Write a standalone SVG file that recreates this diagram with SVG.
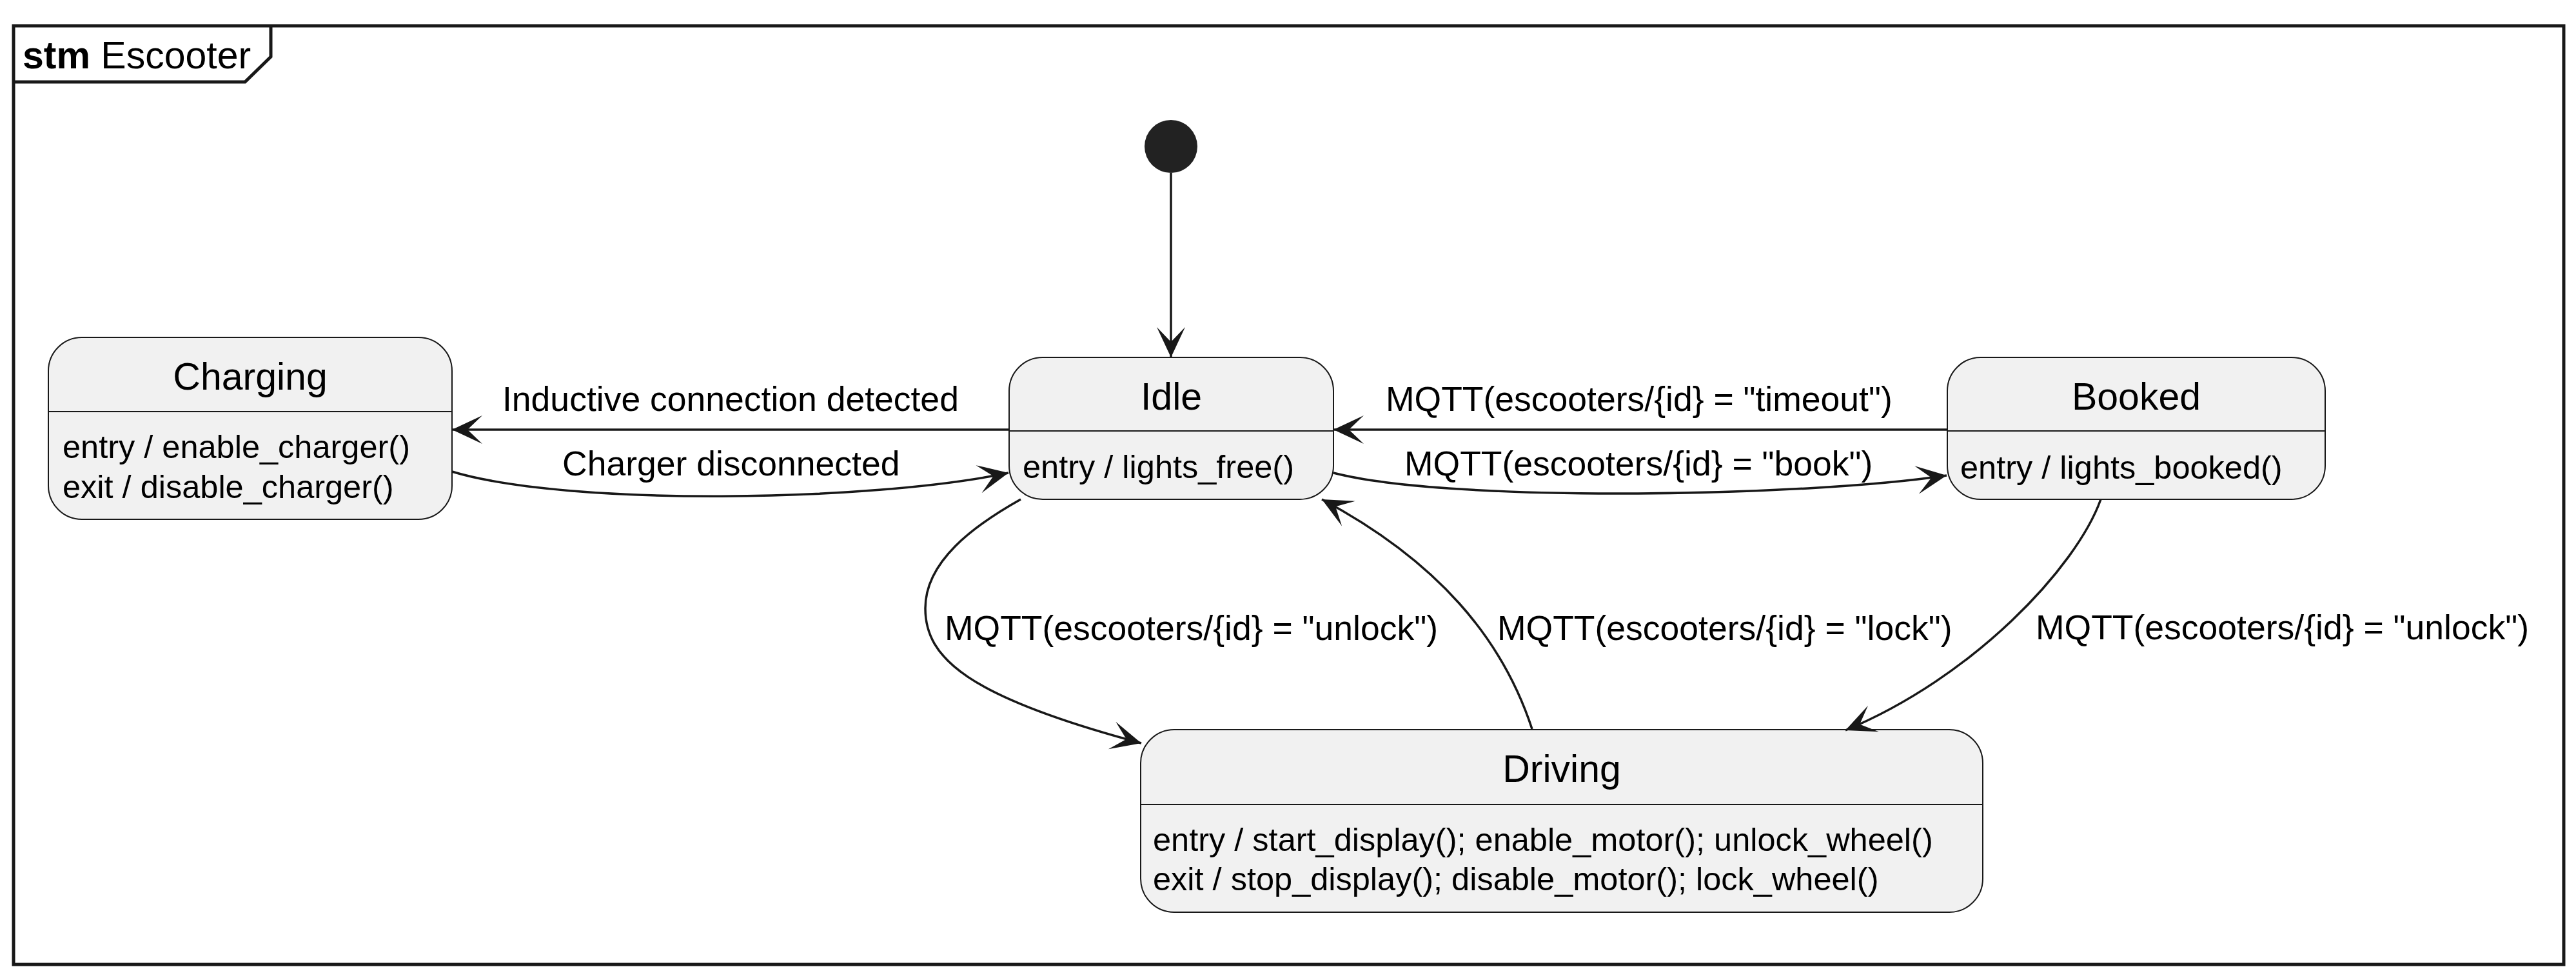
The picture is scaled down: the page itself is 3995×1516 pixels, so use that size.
<svg xmlns="http://www.w3.org/2000/svg" width="3995" height="1516" viewBox="0 0 3995 1516">
<style>
text{font-family:"Liberation Sans",Arial,sans-serif;fill:#000}
.nm{font-size:59px;text-anchor:middle}
.dt{font-size:50.5px}
.lb{font-size:53.5px}
.box{fill:#F1F1F1;stroke:#181818;stroke-width:2}
.div{stroke:#181818;stroke-width:2}
.edge{fill:none;stroke:#181818;stroke-width:3.5;marker-end:url(#ah)}
</style>
<defs>
<marker id="ah" markerUnits="userSpaceOnUse" viewBox="-50 -25 55 50" markerWidth="55" markerHeight="50" refX="0" refY="0" orient="auto" overflow="visible">
<path d="M0,0 L-47,-22 L-24,0 L-47,22 Z" fill="#181818"/>
</marker>
</defs>
<rect width="3995" height="1516" fill="#fff"/>
<g id="frame">
<rect x="21" y="40" width="3955" height="1455" fill="none" stroke="#181818" stroke-width="5"/>
<path d="M21,127 L380,127 L420,88 L420,40" fill="none" stroke="#181818" stroke-width="5"/>
<text x="35" y="106" font-size="59"><tspan font-weight="bold">stm</tspan> Escooter</text>
</g>
<g id="initial">
<circle cx="1816" cy="227" r="41" fill="#222"/>
</g>
<g id="Charging">
<rect class="box" x="75" y="523" width="626" height="282" rx="52"/>
<line class="div" x1="75" y1="638" x2="701" y2="638"/>
<text class="nm" x="388" y="604">Charging</text>
<text class="dt" x="97" y="710">entry / enable_charger()</text>
<text class="dt" x="97" y="772">exit / disable_charger()</text>
</g>
<g id="Idle">
<rect class="box" x="1565" y="554" width="503" height="220" rx="52"/>
<line class="div" x1="1565" y1="668" x2="2068" y2="668"/>
<text class="nm" x="1816.5" y="635">Idle</text>
<text class="dt" x="1586" y="741">entry / lights_free()</text>
</g>
<g id="Booked">
<rect class="box" x="3020" y="554" width="586" height="220" rx="52"/>
<line class="div" x1="3020" y1="668" x2="3606" y2="668"/>
<text class="nm" x="3313" y="635">Booked</text>
<text class="dt" x="3040" y="742">entry / lights_booked()</text>
</g>
<g id="Driving">
<rect class="box" x="1769" y="1131" width="1306" height="283" rx="52"/>
<line class="div" x1="1769" y1="1247" x2="3075" y2="1247"/>
<text class="nm" x="2422" y="1212">Driving</text>
<text class="dt" x="1788" y="1319">entry / start_display(); enable_motor(); unlock_wheel()</text>
<text class="dt" x="1788" y="1380">exit / stop_display(); disable_motor(); lock_wheel()</text>
</g>
<g id="connectors">
<path class="edge" d="M1816,268 L1816,554"/>
<path class="edge" d="M1565,666 L701,666"/>
<text class="lb" x="779" y="637">Inductive connection detected</text>
<path class="edge" d="M701,731 C880,785 1350,778 1564,733"/>
<text class="lb" x="872" y="737">Charger disconnected</text>
<path class="edge" d="M3020,666 L2068,666"/>
<text class="lb" x="2149" y="637">MQTT(escooters/{id} = "timeout")</text>
<path class="edge" d="M2068,733 C2250,780 2800,770 3019,737"/>
<text class="lb" x="2178" y="737">MQTT(escooters/{id} = "book")</text>
<path class="edge" d="M1583,774 C1510,815 1435,870 1435,943 C1435,1020 1500,1080 1770,1152"/>
<text class="lb" x="1465" y="992">MQTT(escooters/{id} = "unlock")</text>
<path class="edge" d="M2376,1130 C2330,990 2230,870 2050,774"/>
<text class="lb" x="2322" y="992">MQTT(escooters/{id} = "lock")</text>
<path class="edge" d="M3258,774 C3220,880 3060,1050 2862,1132"/>
<text class="lb" x="3157" y="991">MQTT(escooters/{id} = "unlock")</text>
</g>
</svg>
